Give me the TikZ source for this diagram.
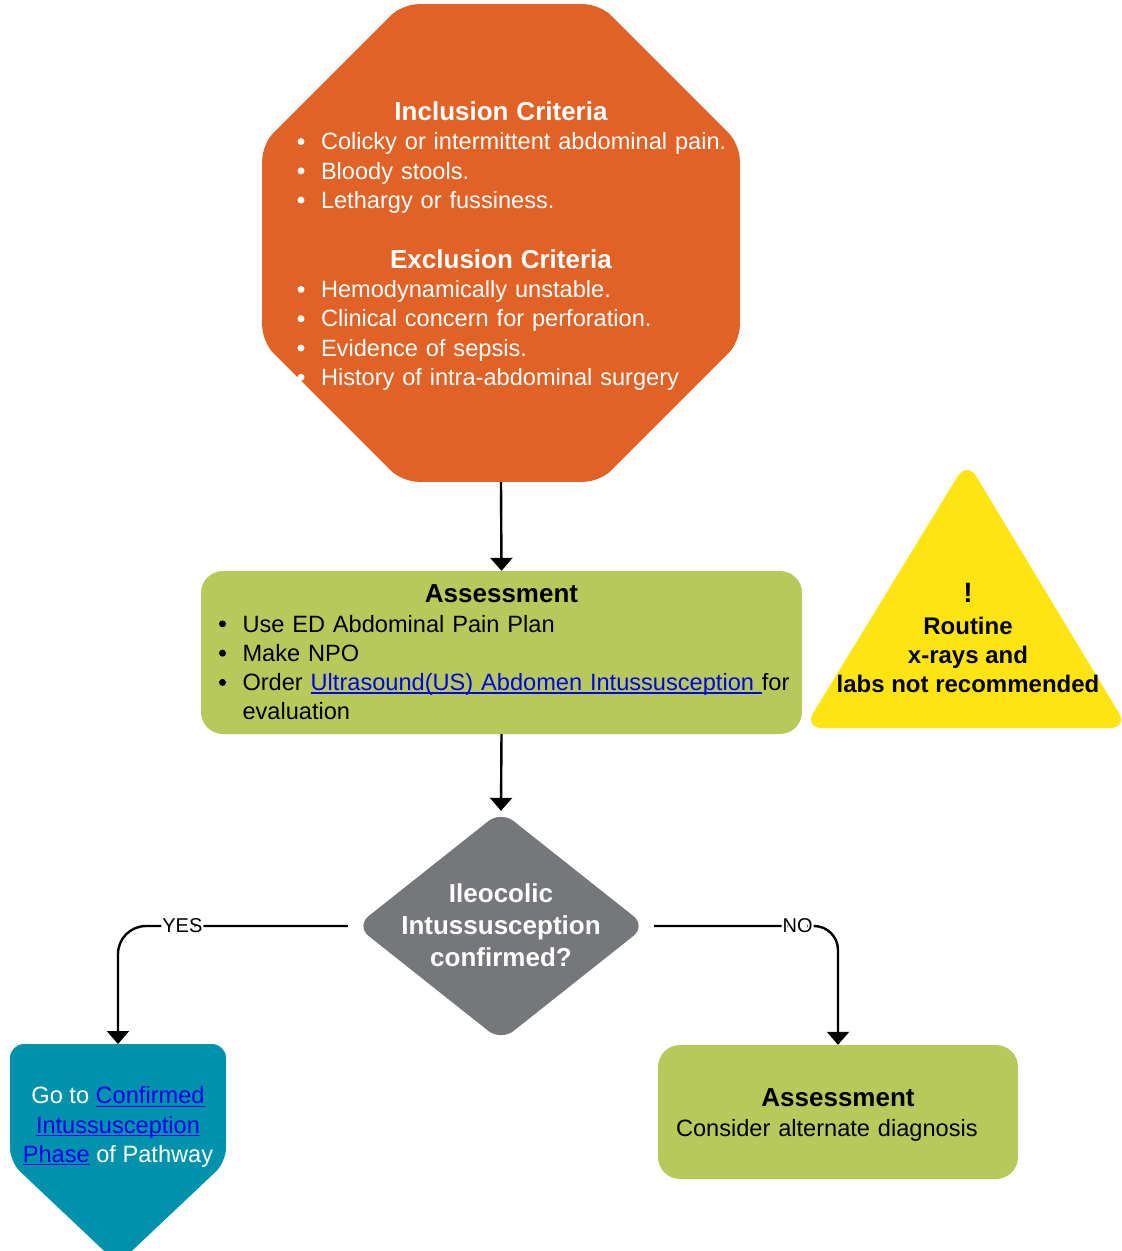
\documentclass[tikz,border=0pt]{standalone}
\usepackage{fontspec}
\setmainfont{Liberation Sans}
\usetikzlibrary{shapes.geometric}
\usetikzlibrary{arrows.meta}

\definecolor{critorange}{RGB}{224,98,38}
\definecolor{assessgreen}{RGB}{183,201,90}
\definecolor{warnyellow}{RGB}{255,228,20}
\definecolor{decgray}{RGB}{118,119,123}
\definecolor{goteal}{RGB}{0,146,173}
\definecolor{linkblue}{RGB}{0,0,238}

\newcommand{\bdot}{\rlap{\hspace*{0.5pt}\tikz[baseline=0pt]\fill[fill=.] (3.5pt,8.2pt) circle (3.5pt);}}
\newcommand{\bitem}[1]{\par\noindent\hbox{\makebox[24pt][l]{\bdot}#1}}
\newcommand{\lnk}[1]{\textcolor{linkblue}{\setbox0\hbox{#1}\rlap{\rule[-3pt]{\wd0}{1.3pt}}\box0}}
\newcommand{\headfont}{\bfseries\fontsize{26}{31}\selectfont}

\begin{document}
\begin{tikzpicture}[x=1pt,y=-1pt,
  bodyfont/.style={font=\fontsize{23.6}{29.3}\selectfont},
  flow/.style={line width=2.4pt,-{Triangle[width=22pt,length=13pt]}},
  edgelabel/.style={fill=white,inner sep=1pt,font=\fontsize{20}{24}\selectfont},
  octbox/.style={regular polygon,regular polygon sides=8,minimum size=517pt,inner sep=0pt,fill=critorange,rounded corners=16pt},
  greenbox/.style={rectangle,fill=assessgreen,rounded corners=22pt,inner sep=0pt,bodyfont},
  decbox/.style={diamond,minimum width=290pt,minimum height=230pt,inner sep=0pt,fill=decgray,rounded corners=16pt}]
\useasboundingbox (0,0) rectangle (1122,1251);
\clip (0,0) rectangle (1122,1251);

\node[octbox] (crit) at (501,243) {};
\node[bodyfont,text=white,text width=408pt,inner sep=0pt] (crittxt) at (501,246) {%
{\centering\headfont Inclusion Criteria\par}
\bitem{Colicky or intermittent abdominal pain.}
\bitem{Bloody stools.}
\bitem{Lethargy or fussiness.}
\par\vspace{29pt}
{\centering\headfont Exclusion Criteria\par}
\bitem{Hemodynamically unstable.}
\bitem{Clinical concern for perforation.}
\bitem{Evidence of sepsis.}
\bitem{History of intra-abdominal surgery}};

\node[greenbox,minimum width=601pt,minimum height=163pt,text width=566pt] (assess) at (501.5,652.5) {%
{\centering\headfont Assessment\par}
\bitem{Use ED Abdominal Pain Plan}
\bitem{Make NPO}
\bitem{Order \lnk{Ultrasound(US) Abdomen Intussusception }for}
\par\noindent\hspace*{24pt}evaluation};

\draw[fill=warnyellow,draw=none,rounded corners=18pt] (967,728) -- (1128,728) -- (967,461) -- (804,728) -- cycle;
\node[font=\bfseries\fontsize{24}{29}\selectfont,align=center,inner sep=0pt] (warntxt) at (968,638) {{\fontsize{28}{30}\selectfont !}\\[3pt] Routine\\ x-rays and\\ labs not recommended};

\node[decbox] (dec) at (501,926) {};
\node[font=\bfseries\fontsize{26}{32}\selectfont,text=white,align=center,inner sep=0pt] (dectxt) at (501,925) {Ileocolic\\ Intussusception\\ confirmed?};

\draw[fill=goteal,draw=none,rounded corners=14pt] (118,1044) -- (226,1044) -- (226,1162) -- (118,1264) -- (10,1162) -- (10,1044) -- cycle;
\coordinate (gotop) at (118,1044);
\node[bodyfont,text=white,align=center,inner sep=0pt] (gotxt) at (118,1127) {Go to \lnk{Confirmed}\\ \lnk{Intussusception}\\ \lnk{Phase} of Pathway};

\node[greenbox,minimum width=360pt,minimum height=134pt] (alt) at (838,1112) {};
\node[bodyfont,text width=324pt,inner sep=0pt] (alttxt) at (838,1115) {%
{\centering\headfont Assessment\par}
\noindent Consider alternate diagnosis};

\draw[flow] (crit.south) -- (assess.north);
\draw[flow] (assess.south) -- (dec.north);
\draw[flow,rounded corners=28pt] ([xshift=-8pt]dec.west) -| node[pos=0.36,edgelabel] {YES} (gotop);
\draw[flow,rounded corners=24pt] ([xshift=8pt]dec.east) -| node[pos=0.39,edgelabel] {NO} (alt.north);

\end{tikzpicture}
\end{document}
